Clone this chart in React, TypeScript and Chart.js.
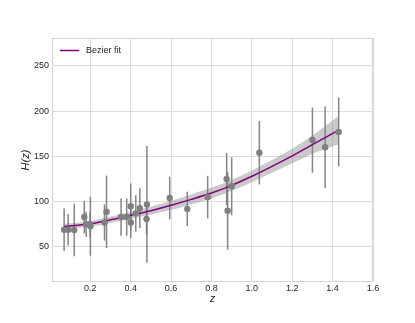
import React, { useEffect, useRef } from "react";
import { Chart, registerables } from "chart.js";

Chart.register(...registerables);

// Observational H(z) points
const zValues = [0.07, 0.09, 0.12, 0.17, 0.179, 0.199, 0.2, 0.27, 0.28, 0.352, 0.38, 0.4, 0.4004, 0.425, 0.445, 0.4783, 0.48, 0.593, 0.68, 0.781, 0.875, 0.88, 0.9, 1.037, 1.3, 1.363, 1.43];
const hValues = [69, 69, 68.6, 83, 75, 75, 72.9, 77, 88.8, 83, 83, 95, 77, 87.1, 92.8, 80.9, 97, 104, 92, 105, 125, 90, 117, 154, 168, 160, 177];
const hErrors = [23.5, 17.5, 29, 18, 14, 14, 32.5, 20, 40, 20.5, 20.5, 25, 17, 20, 22, 17, 64.5, 23.5, 19, 23.5, 29, 43, 32, 35, 36, 45, 38];

// Bezier fit curve and its band
const fitZ = [0.07, 0.2, 0.3, 0.4, 0.5, 0.6, 0.7, 0.8, 0.9, 1.0, 1.1, 1.2, 1.3, 1.43];
const fitH = [72.5, 75.5, 80, 85, 90, 96, 102.5, 109.5, 118, 128, 139, 150.5, 163, 179];
const fitUpper = [75.5, 78.5, 83.5, 89, 94.5, 101, 108, 115.5, 124, 134.5, 146, 158.5, 173, 194.5];
const fitLower = [69.5, 72.5, 76.5, 81, 85.5, 91, 97, 103.5, 112, 121.5, 132, 142.5, 153, 163.5];

const xTicks = [0.2, 0.4, 0.6, 0.8, 1.0, 1.2, 1.4, 1.6];
const yTicks = [50, 100, 150, 200, 250];

const legendLabel = "Bezier fit";
const FIT_COLOR = "#800080";
const TEXT_COLOR = "#262626";

const errorBarPlugin = {
  id: "errorBars",
  beforeDatasetsDraw(chart: any) {
    const { ctx, chartArea, scales } = chart;
    const x = scales.x;
    const y = scales.y;
    ctx.save();
    ctx.strokeStyle = "#d4d4d4";
    ctx.lineWidth = 1;
    ctx.strokeRect(chartArea.left + 0.5, chartArea.top + 0.5, chartArea.right - chartArea.left - 1, chartArea.bottom - chartArea.top - 1);
    ctx.strokeStyle = "rgba(120,120,120,0.9)";
    ctx.lineWidth = 1.5;
    zValues.forEach((z, i) => {
      const px = x.getPixelForValue(z);
      ctx.beginPath();
      ctx.moveTo(px, y.getPixelForValue(hValues[i] - hErrors[i]));
      ctx.lineTo(px, y.getPixelForValue(hValues[i] + hErrors[i]));
      ctx.stroke();
    });
    ctx.restore();
  },
};

const legendPlugin = {
  id: "insideLegend",
  afterDraw(chart: any) {
    const { ctx, chartArea } = chart;
    const ly = chartArea.top + 12.5;
    ctx.save();
    ctx.strokeStyle = FIT_COLOR;
    ctx.lineWidth = 1.5;
    ctx.beginPath();
    ctx.moveTo(chartArea.left + 8, ly);
    ctx.lineTo(chartArea.left + 27, ly);
    ctx.stroke();
    ctx.fillStyle = TEXT_COLOR;
    ctx.font = "9px 'Liberation Sans', Arial, sans-serif";
    ctx.textBaseline = "middle";
    ctx.textAlign = "left";
    ctx.fillText(legendLabel, chartArea.left + 34, ly);
    ctx.restore();
  },
};

export default function App() {
  const canvasRef = useRef<HTMLCanvasElement | null>(null);

  useEffect(() => {
    if (!canvasRef.current) return;
    Chart.defaults.font.family = "'Liberation Sans', Arial, sans-serif";
    const chart = new Chart(canvasRef.current, {
      type: "scatter",
      data: {
        datasets: [
          {
            label: "upper",
            data: fitZ.map((z, i) => ({ x: z, y: fitUpper[i] })),
            showLine: true,
            borderWidth: 0,
            borderColor: "rgba(0,0,0,0)",
            pointRadius: 0,
            tension: 0.3,
            fill: false,
            order: 3,
          },
          {
            label: "lower",
            data: fitZ.map((z, i) => ({ x: z, y: fitLower[i] })),
            showLine: true,
            borderWidth: 0,
            borderColor: "rgba(0,0,0,0)",
            backgroundColor: "rgba(128,128,128,0.42)",
            pointRadius: 0,
            tension: 0.3,
            fill: "-1",
            order: 2,
          },
          {
            label: legendLabel,
            data: fitZ.map((z, i) => ({ x: z, y: fitH[i] })),
            showLine: true,
            borderColor: FIT_COLOR,
            borderWidth: 1.5,
            pointRadius: 0,
            tension: 0.3,
            fill: false,
            order: 1,
          },
          {
            label: "data",
            data: zValues.map((z, i) => ({ x: z, y: hValues[i] })),
            showLine: false,
            pointRadius: 3.2,
            pointBackgroundColor: "#7f7f7f",
            pointBorderWidth: 0,
            order: 0,
          },
        ],
      },
      options: {
        responsive: false,
        animation: false,
        layout: { padding: { top: 38, right: 42, left: 0, bottom: 0 } },
        plugins: {
          legend: { display: false },
          tooltip: { enabled: false },
        },
        scales: {
          x: {
            type: "linear",
            min: 0.01,
            max: 1.6,
            afterBuildTicks: (s: any) => {
              s.ticks = xTicks.map((v) => ({ value: v }));
            },
            afterFit: (s: any) => {
              s.height = 41;
              s.paddingLeft = 0;
              s.paddingRight = 0;
            },
            grid: { color: "#dcdcdc", lineWidth: 1, drawTicks: false },
            border: { display: false },
            ticks: {
              padding: 1.5,
              color: TEXT_COLOR,
              font: { size: 9 },
              autoSkip: false,
              maxRotation: 0,
              callback: (v: any) => Number(v).toFixed(1),
            },
            title: {
              display: true,
              text: "z",
              color: TEXT_COLOR,
              font: { size: 11, style: "italic" },
              padding: { top: 0, bottom: 17 },
            },
          },
          y: {
            type: "linear",
            min: 11.3,
            max: 280.7,
            afterBuildTicks: (s: any) => {
              s.ticks = yTicks.map((v) => ({ value: v }));
            },
            afterFit: (s: any) => {
              s.width = 52;
              s.paddingTop = 0;
              s.paddingBottom = 0;
            },
            grid: { color: "#dcdcdc", lineWidth: 1, drawTicks: false },
            border: { display: false },
            ticks: {
              padding: 3,
              color: TEXT_COLOR,
              font: { size: 9 },
              autoSkip: false,
              callback: (v: any) => String(v),
            },
            title: {
              display: true,
              text: "H(z)",
              color: TEXT_COLOR,
              font: { size: 11, style: "italic" },
              padding: { top: 19, bottom: 0 },
            },
          },
        },
      },
      plugins: [errorBarPlugin, legendPlugin],
    } as any);
    return () => chart.destroy();
  }, []);

  return (
    <div style={{ position: "fixed", left: 0, top: 0, width: 415, height: 323, background: "#ffffff" }}>
      <canvas ref={canvasRef} width={415} height={323} style={{ display: "block", width: 415, height: 323 }} />
    </div>
  );
}
